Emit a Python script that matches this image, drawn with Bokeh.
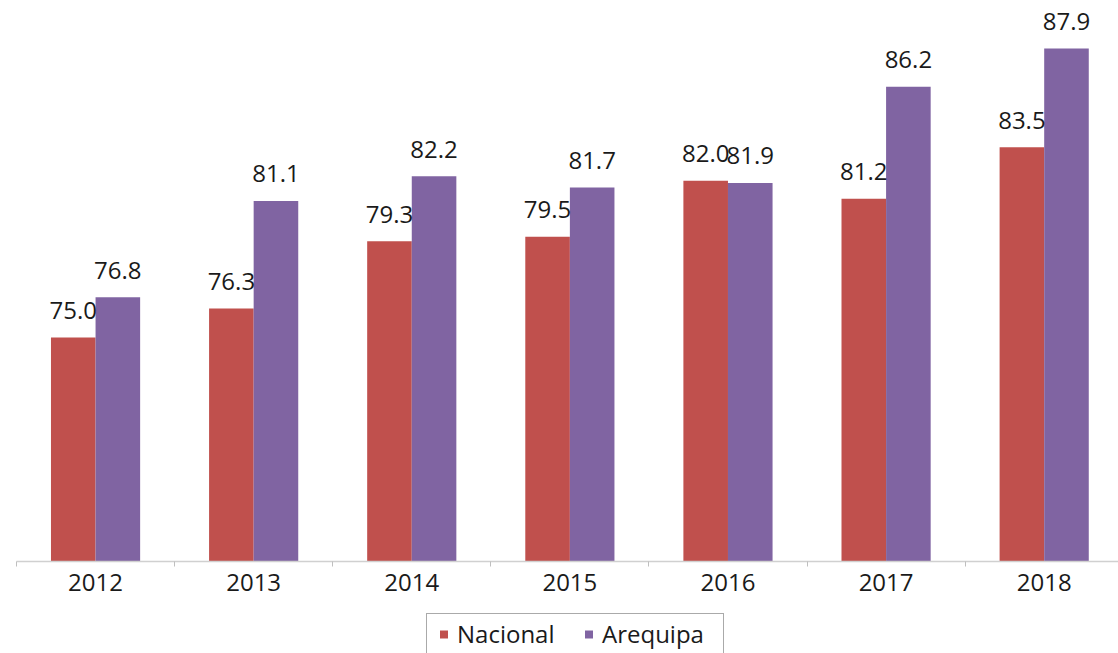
from bokeh.plotting import figure
from bokeh.models import ColumnDataSource, Range1d, FixedTicker, Legend, LegendItem
from bokeh.layouts import column
from bokeh.transform import dodge
from bokeh.core.properties import value
from bokeh.embed import file_html
from bokeh.resources import INLINE

years = ["2012", "2013", "2014", "2015", "2016", "2017", "2018"]
nacional = [75.0, 76.3, 79.3, 79.5, 82.0, 81.2, 83.5]
arequipa = [76.8, 81.1, 82.2, 81.7, 81.9, 86.2, 87.9]
series = ["Nacional", "Arequipa"]

RED = "#C0504D"
PURPLE = "#8064A2"
FONT = "Open Sans"

idx = list(range(len(years)))
src = ColumnDataSource(dict(
    x=idx,
    nac=nacional,
    are=arequipa,
    nac_lbl=[f"{v:.1f}" for v in nacional],
    are_lbl=[f"{v:.1f}" for v in arequipa],
))

p = figure(
    frame_width=1102, frame_height=551,
    x_range=Range1d(-0.5, 6.47), y_range=Range1d(65, 89.6),
    output_backend="svg", toolbar_location=None,
    min_border_left=16, min_border_right=0, min_border_top=10, min_border_bottom=50,
    background_fill_color="white", border_fill_color="white",
)
p.outline_line_color = None
p.xgrid.visible = False
p.ygrid.visible = False
p.yaxis.visible = False

bw = 0.282
off = 0.141
p.vbar(x=dodge("x", -off), top="nac", bottom=65, width=bw, source=src,
       fill_color=RED, line_color=None)
p.vbar(x=dodge("x", off), top="are", bottom=65, width=bw, source=src,
       fill_color=PURPLE, line_color=None)

for col, lbl, d in [("nac", "nac_lbl", -off), ("are", "are_lbl", off)]:
    p.text(x=dodge("x", d), y=col, text=lbl, source=src,
           text_font=value(FONT), text_font_size="24px", text_color="#1a1a1a",
           text_align="center", text_baseline="alphabetic", y_offset=-27)

ax = p.xaxis[0]
ax.ticker = FixedTicker(ticks=idx, minor_ticks=[i - 0.5 for i in range(len(years) + 1)])
ax.major_label_overrides = {i: y for i, y in zip(idx, years)}
ax.major_tick_line_color = None
ax.major_tick_out = 0
ax.major_tick_in = 0
ax.minor_tick_line_color = "#bfbfbf"
ax.minor_tick_out = 5
ax.minor_tick_in = 0
ax.axis_line_color = "#d0d0d0"
ax.axis_line_width = 1.5
ax.major_label_text_font = FONT
ax.major_label_text_font_size = "24px"
ax.major_label_text_color = "#1a1a1a"
ax.major_label_standoff = 7

# legend strip below the chart
p2 = figure(
    width=1118, height=42,
    x_range=Range1d(0, 1), y_range=Range1d(0, 1),
    output_backend="svg", toolbar_location=None,
    min_border_left=0, min_border_right=0, min_border_top=0, min_border_bottom=0,
    background_fill_color="white", border_fill_color="white",
)
p2.outline_line_color = None
p2.axis.visible = False
p2.grid.visible = False
l1 = p2.scatter(x=[-10], y=[-10], marker="square", size=11, fill_color=RED, line_color=None)
l2 = p2.scatter(x=[-10], y=[-10], marker="square", size=11, fill_color=PURPLE, line_color=None)

legend = Legend(
    items=[LegendItem(label=series[0], renderers=[l1]),
           LegendItem(label=series[1], renderers=[l2])],
    orientation="horizontal", location=(410, -1),
    label_text_font=FONT, label_text_font_size="24px", label_text_color="#1a1a1a",
    glyph_width=27, glyph_height=20, label_standoff=0, spacing=0,
    label_width=118, padding=3, margin=0,
    border_line_color="#555555", border_line_width=1.5,
    background_fill_color="white",
)
p2.add_layout(legend, "center")

layout = column(p, p2, spacing=0)
open("out.html", "w").write(file_html(layout, INLINE))
